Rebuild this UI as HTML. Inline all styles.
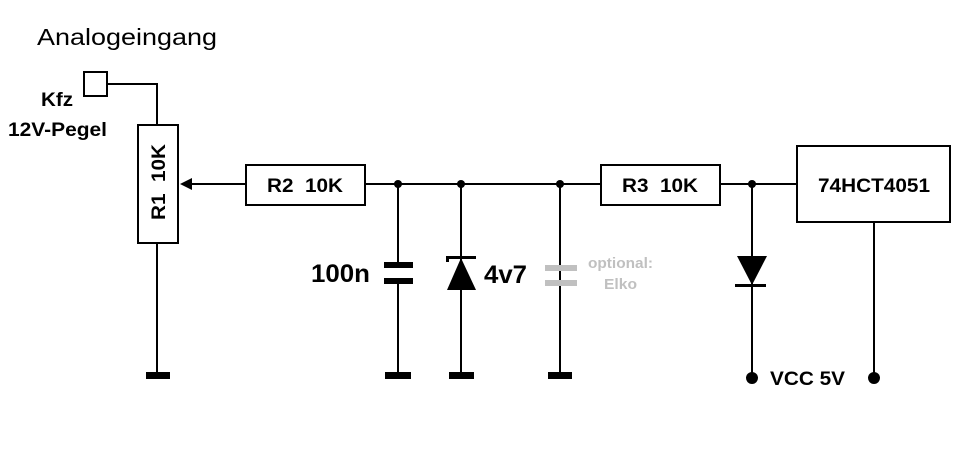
<!DOCTYPE html>
<html><head><style>body{margin:0;background:#fff}svg{display:block}</style></head><body>
<svg width="959" height="457" viewBox="0 0 959 457" xmlns="http://www.w3.org/2000/svg" font-family="Liberation Sans, Arial, sans-serif">
<rect width="959" height="457" fill="#fff"/>
<text x="37" y="45" font-size="23" textLength="180" lengthAdjust="spacingAndGlyphs">Analogeingang</text>
<text x="41" y="106" font-size="19" font-weight="bold" textLength="32" lengthAdjust="spacingAndGlyphs">Kfz</text>
<text x="8" y="136" font-size="19" font-weight="bold" textLength="99" lengthAdjust="spacingAndGlyphs">12V-Pegel</text>
<g stroke="#000" stroke-width="2" fill="none">
<rect x="84" y="72" width="23" height="24"/>
<polyline points="107,84 157,84 157,125"/>
<rect x="138" y="125" width="40" height="118"/>
<line x1="157" y1="243" x2="157" y2="375"/>
<line x1="190" y1="184" x2="246" y2="184"/>
<rect x="246" y="165" width="119" height="40"/>
<line x1="365" y1="184" x2="601" y2="184"/>
<rect x="601" y="165" width="119" height="40"/>
<line x1="720" y1="184" x2="797" y2="184"/>
<rect x="797" y="146" width="153" height="76"/>
<line x1="874" y1="222" x2="874" y2="378"/>
<line x1="752" y1="184" x2="752" y2="378"/>
<line x1="398" y1="184" x2="398" y2="264"/>
<line x1="398" y1="282" x2="398" y2="375"/>
<line x1="461" y1="184" x2="461" y2="375"/>
<line x1="560" y1="184" x2="560" y2="375"/>
</g>
<polygon points="180,184 192,178 192,190" fill="#000"/>
<text x="0" y="0" font-size="19" font-weight="bold" text-anchor="middle" transform="translate(165 182) rotate(-90)" xml:space="preserve" textLength="76" lengthAdjust="spacingAndGlyphs">R1  10K</text>
<text x="305" y="192" font-size="19" font-weight="bold" text-anchor="middle" xml:space="preserve" textLength="76" lengthAdjust="spacingAndGlyphs">R2  10K</text>
<text x="660" y="192" font-size="19" font-weight="bold" text-anchor="middle" xml:space="preserve" textLength="76" lengthAdjust="spacingAndGlyphs">R3  10K</text>
<text x="874" y="192" font-size="19" font-weight="bold" text-anchor="middle" textLength="112" lengthAdjust="spacingAndGlyphs">74HCT4051</text>
<g fill="#000">
<circle cx="398" cy="184" r="4"/><circle cx="461" cy="184" r="4"/><circle cx="560" cy="184" r="4"/><circle cx="752" cy="184" r="4"/>
<circle cx="752" cy="378" r="6"/><circle cx="874" cy="378" r="6"/>
<rect x="146" y="372" width="24" height="7"/>
<rect x="385" y="372" width="26" height="7"/>
<rect x="449" y="372" width="25" height="7"/>
<rect x="548" y="372" width="24" height="7"/>
<rect x="384" y="262" width="29" height="6"/>
<rect x="384" y="278" width="29" height="6"/>
<polygon points="461,258 447,290 476,290"/>
<rect x="446" y="256" width="30" height="3"/>
<rect x="446" y="256" width="3" height="6"/>
<polygon points="737,256 767,256 752,285"/>
<rect x="735" y="284" width="31" height="3"/>
</g>
<rect x="545" y="265" width="32" height="6" fill="#c0c0c0"/>
<rect x="545" y="280" width="32" height="6" fill="#c0c0c0"/>
<text x="311" y="282" font-size="25" font-weight="bold" textLength="59" lengthAdjust="spacingAndGlyphs">100n</text>
<text x="484" y="283" font-size="25" font-weight="bold" textLength="43" lengthAdjust="spacingAndGlyphs">4v7</text>
<text x="588" y="268" font-size="15" font-weight="bold" fill="#c0c0c0" textLength="65" lengthAdjust="spacingAndGlyphs">optional:</text>
<text x="604" y="289" font-size="15" font-weight="bold" fill="#c0c0c0" textLength="33" lengthAdjust="spacingAndGlyphs">Elko</text>
<text x="770" y="385" font-size="19" font-weight="bold" textLength="75" lengthAdjust="spacingAndGlyphs">VCC 5V</text>
</svg>
</body></html>
